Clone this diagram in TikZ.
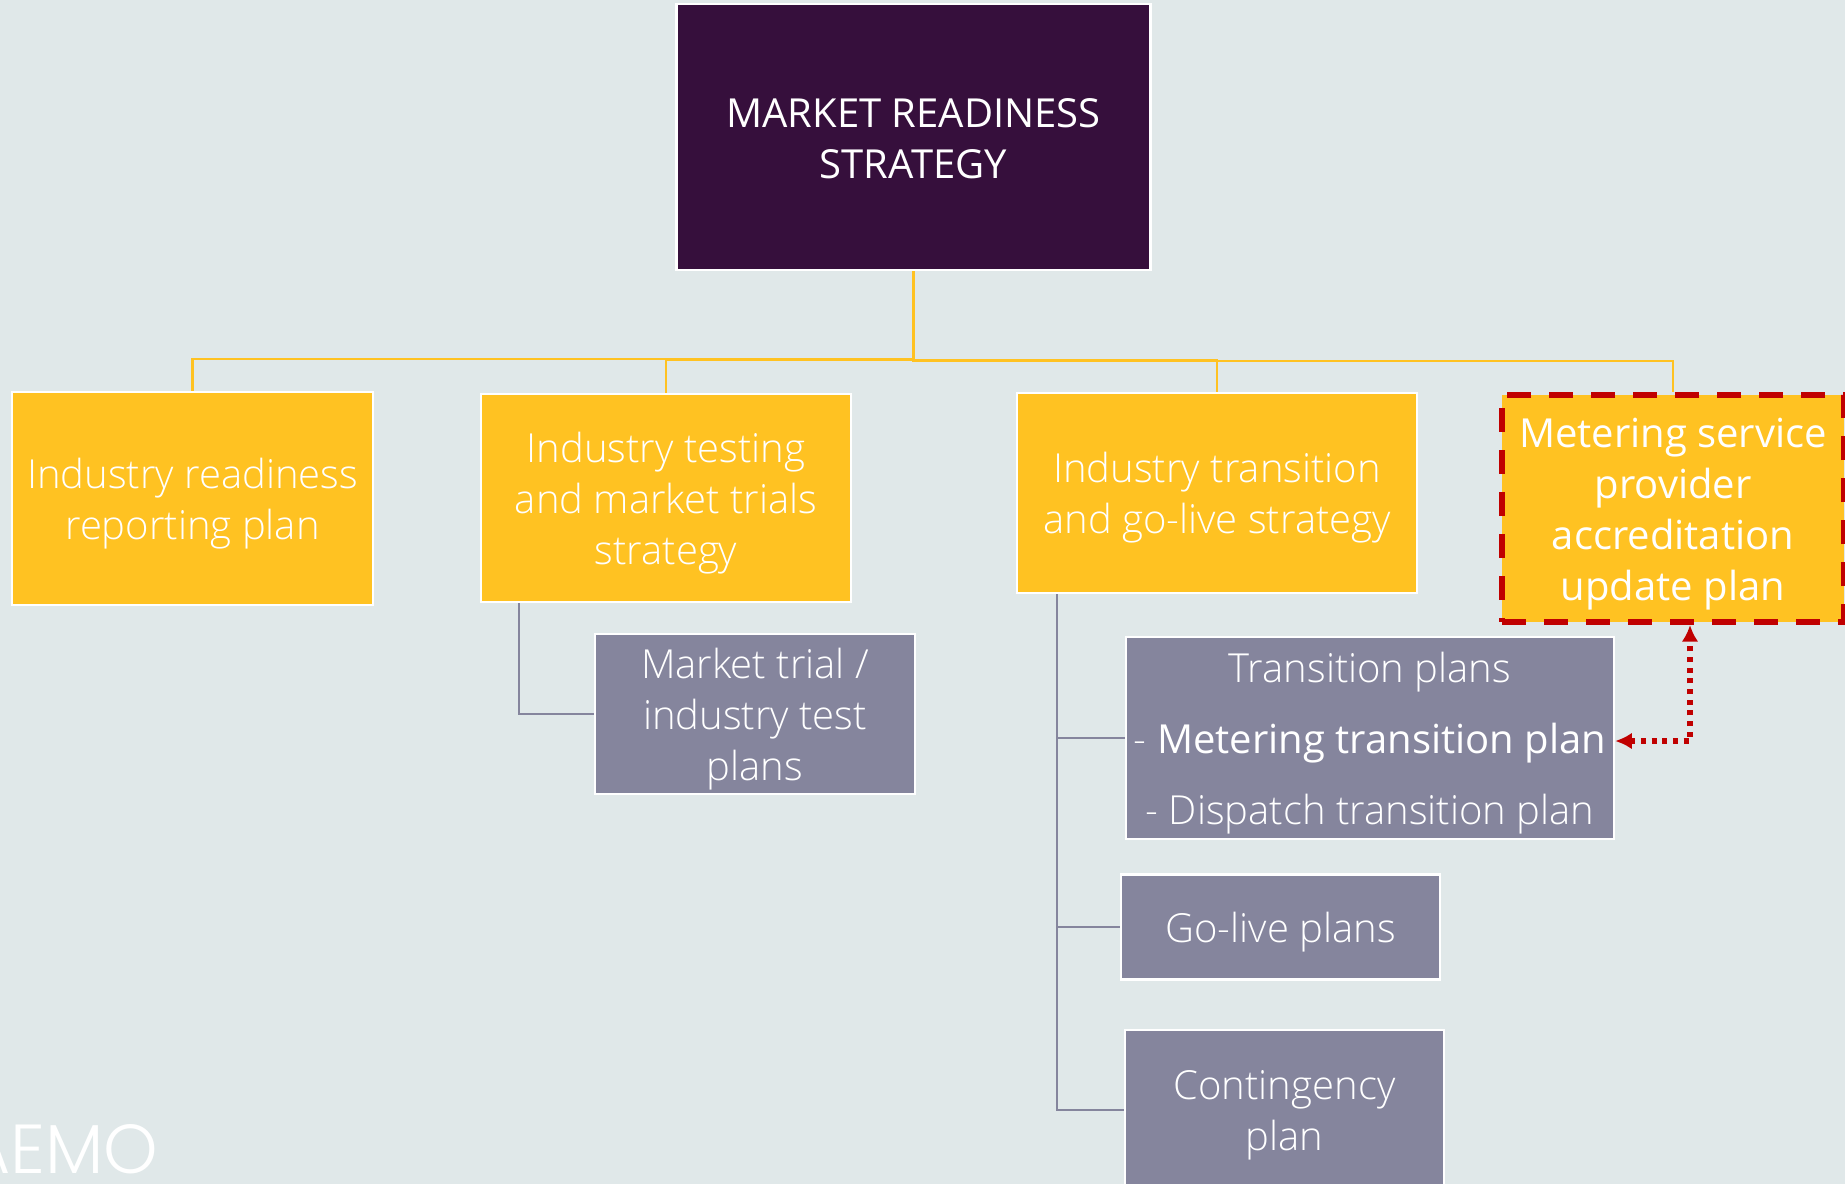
\documentclass[tikz,border=0pt]{standalone}
\usepackage{fontspec}
\setmainfont{Open Sans Light}
\newfontfamily\semi{Open Sans}
\newfontfamily\logo{Poppins Light}
\usetikzlibrary{arrows.meta}
\definecolor{bgc}{HTML}{E0E8E9}
\definecolor{gold}{HTML}{FFC222}
\definecolor{plum}{HTML}{360F3C}
\definecolor{slate}{HTML}{85859D}
\definecolor{redd}{HTML}{C00000}
\newcommand{\lowr}{\rule{0pt}{30pt}}
\newcommand{\lowt}{\rule{0pt}{24pt}}
\tikzset{
 boxbase/.style={inner sep=0pt,text=white,align=center,font=\fontsize{30}{38.25}\selectfont},
 goldbox/.style={boxbase,fill=gold,draw=white,line width=2pt},
 greybox/.style={boxbase,fill=slate,draw=white,line width=1.8pt},
 plumbox/.style={boxbase,fill=plum,draw=white,line width=1.8pt},
 redbox/.style={boxbase,fill=gold,draw=redd,line width=4.5pt,dash pattern=on 18pt off 13.5pt},
 goldline/.style={draw=gold,line width=1.6pt},
 greyline/.style={draw=slate,line width=1.6pt},
 redarrow/.style={draw=redd,line width=4pt,dash pattern=on 3.8pt off 4.2pt,
   {Latex[length=12.5pt,width=12.5pt]}-{Latex[length=12.5pt,width=12.5pt]}},
}
\begin{document}
\begin{tikzpicture}[x=0.75pt,y=-0.75pt]
\fill[bgc] (0,0) rectangle (1845,1184);
\useasboundingbox (0,0) rectangle (1845,1184);
\clip (0,0) rectangle (1845,1184);
\node[plumbox,minimum width=355.5pt,minimum height=199.5pt] (top) at (913.5,137) {\lowt\semi MARKET READINESS\\\semi STRATEGY};
\node[goldbox,minimum width=270.75pt,minimum height=159.75pt] (b1) at (192.5,498.5) {\lowr Industry readiness\\reporting plan};
\node[goldbox,minimum width=277.5pt,minimum height=156pt] (b2) at (666,498) {\lowr Industry testing\\and market trials\\strategy};
\node[goldbox,minimum width=300pt,minimum height=150pt] (b3) at (1217,493) {\lowr Industry transition\\and go-live strategy};
\node[redbox,minimum width=256.5pt,minimum height=170.25pt] (b4) at (1673,508.5) {\lowr\semi Metering service\\\semi provider\\\semi accreditation\\\semi update plan};
\node[greybox,minimum width=240pt,minimum height=120pt] (g1) at (755,714) {\lowr Market trial /\\industry test\\plans};
\node[greybox,minimum width=366pt,minimum height=151.5pt,font=\fontsize{30}{53.25}\selectfont] (g2) at (1370,738) {\lowr Transition plans\\- {\semi Metering transition plan}\\- Dispatch transition plan};
\node[greybox,minimum width=239.25pt,minimum height=78.75pt] (g3) at (1280.5,927) {\lowr Go-live plans};
\node[greybox,minimum width=239.25pt,minimum height=120pt] (g4) at (1284.5,1110) {\lowr Contingency\\plan};
\node[anchor=base west,inner sep=0pt,text=white,font=\logo\fontsize{52}{52}\selectfont] (logo) at (-35,1173) {AEMO};
\coordinate (bus1) at (913.5,359);
\coordinate (bus2) at (913.5,360);
\coordinate (bus3) at (913.5,360.5);
\coordinate (bus4) at (1217,361);
\coordinate (elbow) at (1690,741);
\draw[goldline] (top.south) -- (bus1) -| (b1.north);
\draw[goldline] (top.south) -- (bus2) -| (b2.north);
\draw[goldline] (top.south) -- (bus3) -| (b3.north);
\draw[goldline] (bus4) -| (b4.north);
\draw[greyline] (b2.south -| 519,0) |- (g1.west);
\draw[greyline] (b3.south -| 1057,0) |- (g4.west);
\draw[greyline] (b3.south -| 1057,0) |- (g2.west);
\draw[greyline] (b3.south -| 1057,0) |- (g3.west);
\draw[redarrow] (g2.east |- elbow) -- (elbow) -- (elbow |- b4.south);
\end{tikzpicture}
\end{document}
